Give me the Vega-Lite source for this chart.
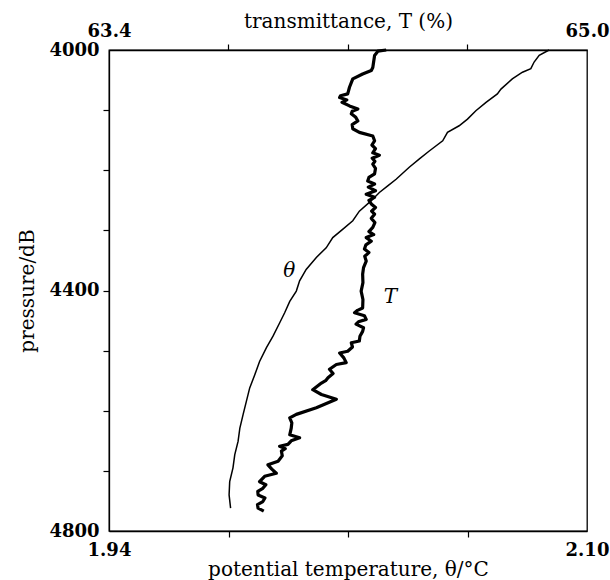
{
  "$schema": "https://vega.github.io/schema/vega-lite/v6.json",
  "width": 478,
  "height": 481,
  "autosize": {"type": "none"},
  "padding": {"left": 109, "top": 50, "right": 23, "bottom": 49},
  "background": "white",
  "config": {
    "view": {"stroke": "black", "strokeWidth": 1.3},
    "axis": {
      "grid": false,
      "domainColor": "black",
      "domainWidth": 1.3,
      "tickColor": "black",
      "tickWidth": 1.2,
      "labelColor": "black",
      "titleColor": "black",
      "labelFont": "DejaVu Serif",
      "labelFontWeight": "bold",
      "labelFontSize": 18,
      "titleFont": "DejaVu Serif",
      "titleFontWeight": "normal",
      "titleFontSize": 20,
      "tickSize": 6,
      "labelPadding": 4,
      "labelFlush": false,
      "labelOverlap": false,
      "labelBound": false
    }
  },
  "datasets": {
    "theta": [
      {"p": 4000, "v": 2.0873}, {"p": 4009, "v": 2.0840}, {"p": 4020, "v": 2.0823}, {"p": 4031, "v": 2.0812},
      {"p": 4037, "v": 2.0784}, {"p": 4048, "v": 2.0750}, {"p": 4065, "v": 2.0712}, {"p": 4073, "v": 2.0700},
      {"p": 4087, "v": 2.0662}, {"p": 4101, "v": 2.0628}, {"p": 4115, "v": 2.0600}, {"p": 4126, "v": 2.0572},
      {"p": 4137, "v": 2.0533}, {"p": 4151, "v": 2.0517}, {"p": 4168, "v": 2.0472}, {"p": 4181, "v": 2.0439},
      {"p": 4195, "v": 2.0405}, {"p": 4215, "v": 2.0361}, {"p": 4226, "v": 2.0333}, {"p": 4237, "v": 2.0305},
      {"p": 4251, "v": 2.0277}, {"p": 4268, "v": 2.0238}, {"p": 4284, "v": 2.0216}, {"p": 4298, "v": 2.0183},
      {"p": 4312, "v": 2.0149}, {"p": 4329, "v": 2.0127}, {"p": 4345, "v": 2.0094}, {"p": 4365, "v": 2.0060},
      {"p": 4384, "v": 2.0038}, {"p": 4401, "v": 2.0027}, {"p": 4418, "v": 2.0005}, {"p": 4437, "v": 1.9988},
      {"p": 4454, "v": 1.9971}, {"p": 4476, "v": 1.9949}, {"p": 4495, "v": 1.9927}, {"p": 4518, "v": 1.9904},
      {"p": 4540, "v": 1.9888}, {"p": 4562, "v": 1.9871}, {"p": 4584, "v": 1.9860}, {"p": 4606, "v": 1.9849},
      {"p": 4629, "v": 1.9838}, {"p": 4651, "v": 1.9832}, {"p": 4673, "v": 1.9821}, {"p": 4695, "v": 1.9815},
      {"p": 4718, "v": 1.9804}, {"p": 4740, "v": 1.9802}, {"p": 4762, "v": 1.9807}
    ],
    "trans": [
      {"p": 4000, "v": 64.328}, {"p": 4002, "v": 64.300}, {"p": 4009, "v": 64.289}, {"p": 4029, "v": 64.283},
      {"p": 4034, "v": 64.278}, {"p": 4040, "v": 64.249}, {"p": 4048, "v": 64.216}, {"p": 4062, "v": 64.205},
      {"p": 4073, "v": 64.199}, {"p": 4076, "v": 64.175}, {"p": 4079, "v": 64.172}, {"p": 4083, "v": 64.196},
      {"p": 4087, "v": 64.180}, {"p": 4093, "v": 64.205},
      {"p": 4098, "v": 64.233}, {"p": 4102, "v": 64.214}, {"p": 4106, "v": 64.211}, {"p": 4112, "v": 64.226},
      {"p": 4118, "v": 64.233}, {"p": 4124, "v": 64.214}, {"p": 4131, "v": 64.216},
      {"p": 4137, "v": 64.238}, {"p": 4143, "v": 64.283}, {"p": 4151, "v": 64.289}, {"p": 4158, "v": 64.280},
      {"p": 4164, "v": 64.292}, {"p": 4171, "v": 64.283}, {"p": 4175, "v": 64.305}, {"p": 4180, "v": 64.281},
      {"p": 4185, "v": 64.290}, {"p": 4190, "v": 64.283}, {"p": 4197, "v": 64.292}, {"p": 4206, "v": 64.289},
      {"p": 4212, "v": 64.270}, {"p": 4218, "v": 64.266}, {"p": 4223, "v": 64.289}, {"p": 4228, "v": 64.268},
      {"p": 4234, "v": 64.292}, {"p": 4240, "v": 64.261}, {"p": 4245, "v": 64.289}, {"p": 4250, "v": 64.270},
      {"p": 4256, "v": 64.278}, {"p": 4262, "v": 64.292}, {"p": 4268, "v": 64.279}, {"p": 4273, "v": 64.289},
      {"p": 4280, "v": 64.278}, {"p": 4287, "v": 64.290}, {"p": 4295, "v": 64.283}, {"p": 4302, "v": 64.270},
      {"p": 4307, "v": 64.286}, {"p": 4312, "v": 64.261}, {"p": 4318, "v": 64.278}, {"p": 4324, "v": 64.260},
      {"p": 4331, "v": 64.255}, {"p": 4337, "v": 64.270}, {"p": 4343, "v": 64.256}, {"p": 4351, "v": 64.261},
      {"p": 4362, "v": 64.252}, {"p": 4373, "v": 64.249}, {"p": 4387, "v": 64.250}, {"p": 4401, "v": 64.244},
      {"p": 4415, "v": 64.250}, {"p": 4429, "v": 64.249}, {"p": 4433, "v": 64.232}, {"p": 4437, "v": 64.222},
      {"p": 4442, "v": 64.255}, {"p": 4448, "v": 64.261}, {"p": 4452, "v": 64.235}, {"p": 4456, "v": 64.227},
      {"p": 4462, "v": 64.252}, {"p": 4468, "v": 64.249}, {"p": 4476, "v": 64.240}, {"p": 4484, "v": 64.238},
      {"p": 4487, "v": 64.211}, {"p": 4494, "v": 64.215}, {"p": 4501, "v": 64.199},
      {"p": 4504, "v": 64.172}, {"p": 4512, "v": 64.186}, {"p": 4520, "v": 64.194}, {"p": 4523, "v": 64.161},
      {"p": 4531, "v": 64.138}, {"p": 4538, "v": 64.150}, {"p": 4545, "v": 64.133}, {"p": 4550, "v": 64.125},
      {"p": 4554, "v": 64.111}, {"p": 4565, "v": 64.082}, {"p": 4573, "v": 64.111},
      {"p": 4581, "v": 64.161}, {"p": 4595, "v": 64.094}, {"p": 4606, "v": 64.027}, {"p": 4612, "v": 64.005},
      {"p": 4620, "v": 64.012}, {"p": 4629, "v": 64.010}, {"p": 4640, "v": 64.005}, {"p": 4645, "v": 64.038},
      {"p": 4650, "v": 64.010}, {"p": 4656, "v": 63.999},
      {"p": 4659, "v": 63.971}, {"p": 4663, "v": 63.990}, {"p": 4667, "v": 63.977}, {"p": 4675, "v": 63.980},
      {"p": 4684, "v": 63.966}, {"p": 4690, "v": 63.932},
      {"p": 4697, "v": 63.945}, {"p": 4704, "v": 63.960}, {"p": 4709, "v": 63.921}, {"p": 4718, "v": 63.904},
      {"p": 4723, "v": 63.925}, {"p": 4729, "v": 63.915}, {"p": 4734, "v": 63.898}, {"p": 4740, "v": 63.899},
      {"p": 4745, "v": 63.922}, {"p": 4751, "v": 63.915}, {"p": 4756, "v": 63.897}, {"p": 4762, "v": 63.899},
      {"p": 4767, "v": 63.918}
    ],
    "thetaLabel": [{"name": "θ", "v": 2.0003, "p": 4367}],
    "transLabel": [{"name": "T", "v": 64.342, "p": 4410}]
  },
  "layer": [
    {
      "data": {"name": "theta"},
      "mark": {"type": "line", "color": "black", "strokeWidth": 1.5},
      "encoding": {
        "x": {
          "field": "v", "type": "quantitative",
          "scale": {"domain": [1.94, 2.10], "nice": false, "zero": false},
          "axis": {
            "orient": "bottom",
            "title": "potential temperature, θ/°C",
            "values": [1.94, 1.98, 2.02, 2.06, 2.10],
            "format": ".2f",
            "labelExpr": "datum.value < 1.95 || datum.value > 2.09 ? datum.label : ''",
            "tickOpacity": {"condition": {"test": "datum.value < 1.95 || datum.value > 2.09", "value": 0}, "value": 1},
            "titlePadding": 0
          }
        },
        "y": {
          "field": "p", "type": "quantitative",
          "scale": {"domain": [4000, 4800], "reverse": true, "nice": false, "zero": false},
          "axis": {
            "title": "pressure/dB",
            "values": [4000, 4100, 4200, 4300, 4400, 4500, 4600, 4700, 4800],
            "format": "d",
            "labelExpr": "datum.value % 400 == 0 ? datum.label : ''",
            "tickOpacity": {"condition": {"test": "datum.value == 4000 || datum.value == 4800", "value": 0}, "value": 1},
            "titlePadding": 11
          }
        },
        "order": {"field": "p", "type": "quantitative"}
      }
    },
    {
      "data": {"name": "thetaLabel"},
      "mark": {"type": "text", "font": "DejaVu Serif", "fontStyle": "italic", "fontSize": 20, "color": "black"},
      "encoding": {
        "x": {"field": "v", "type": "quantitative", "scale": {"domain": [1.94, 2.10], "nice": false, "zero": false}, "axis": null},
        "y": {"field": "p", "type": "quantitative", "scale": {"domain": [4000, 4800], "reverse": true, "nice": false, "zero": false}},
        "text": {"field": "name"}
      }
    },
    {
      "data": {"name": "trans"},
      "mark": {"type": "line", "color": "black", "strokeWidth": 3.2, "strokeJoin": "round"},
      "encoding": {
        "x": {
          "field": "v", "type": "quantitative",
          "scale": {"domain": [63.4, 65.0], "nice": false, "zero": false},
          "axis": {
            "orient": "top",
            "title": "transmittance, T (%)",
            "values": [63.4, 63.8, 64.2, 64.6, 65.0],
            "format": ".1f",
            "labelExpr": "datum.value < 63.5 || datum.value > 64.9 ? datum.label : ''",
            "tickOpacity": {"condition": {"test": "datum.value < 63.5 || datum.value > 64.9", "value": 0}, "value": 1},
            "titlePadding": -9
          }
        },
        "y": {"field": "p", "type": "quantitative", "scale": {"domain": [4000, 4800], "reverse": true, "nice": false, "zero": false}},
        "order": {"field": "p", "type": "quantitative"}
      }
    },
    {
      "data": {"name": "transLabel"},
      "mark": {"type": "text", "font": "DejaVu Serif", "fontStyle": "italic", "fontSize": 20, "color": "black"},
      "encoding": {
        "x": {"field": "v", "type": "quantitative", "scale": {"domain": [63.4, 65.0], "nice": false, "zero": false}, "axis": null},
        "y": {"field": "p", "type": "quantitative", "scale": {"domain": [4000, 4800], "reverse": true, "nice": false, "zero": false}},
        "text": {"field": "name"}
      }
    }
  ],
  "resolve": {"scale": {"x": "independent"}, "axis": {"x": "independent"}}
}
